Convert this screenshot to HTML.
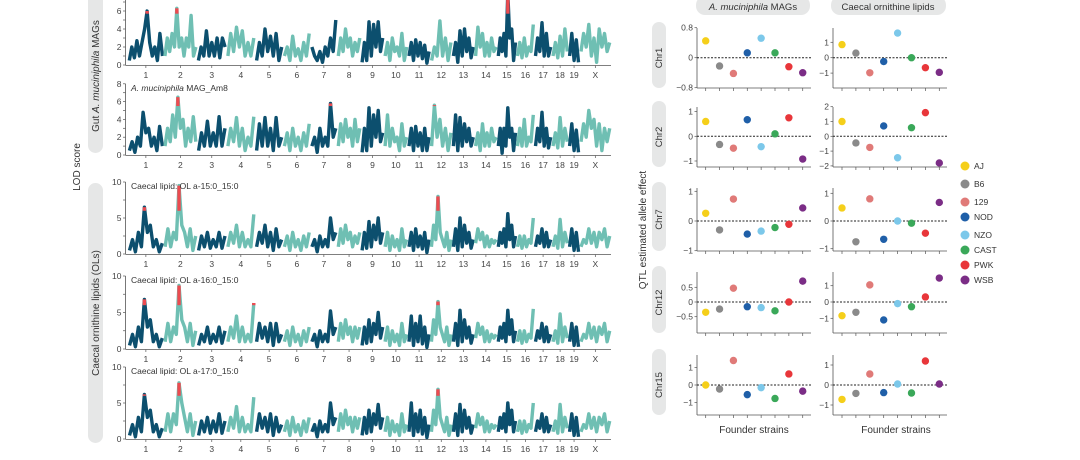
<!DOCTYPE html>
<html><head><meta charset="utf-8">
<style>
html,body{margin:0;padding:0;background:#fff;}
svg{display:block;font-family:"Liberation Sans",sans-serif;}
</style></head>
<body>
<svg id="fig" width="1080" height="460" viewBox="0 0 1080 460" xmlns="http://www.w3.org/2000/svg">
  <rect x="88" y="-10" width="15" height="163" rx="7.5" fill="#e6e7e7"/>
  <text transform="translate(99,76) rotate(-90)" text-anchor="middle" font-size="10" fill="#333">Gut <tspan font-style="italic">A. muciniphila</tspan> MAGs</text>
  <rect x="88" y="183" width="15" height="260" rx="7.5" fill="#e6e7e7"/>
  <text transform="translate(99,313) rotate(-90)" text-anchor="middle" font-size="10" fill="#333">Caecal ornithine lipids (OLs)</text>
  <text transform="translate(80,167) rotate(-90)" text-anchor="middle" font-size="10" fill="#333">LOD score</text>

  <rect x="696" y="-4" width="114" height="19" rx="9" fill="#e6e7e7"/>
  <text x="753" y="10" text-anchor="middle" font-size="9.5" fill="#333"><tspan font-style="italic">A. muciniphila</tspan> MAGs</text>
  <rect x="831" y="-4" width="115" height="19" rx="9" fill="#e6e7e7"/>
  <text x="888" y="10" text-anchor="middle" font-size="9.5" fill="#333">Caecal ornithine lipids</text>
  <text transform="translate(646,230) rotate(-90)" text-anchor="middle" font-size="10" fill="#333">QTL estimated allele effect</text>
  <text x="754" y="433" text-anchor="middle" font-size="10" fill="#333">Founder strains</text>
  <text x="896" y="433" text-anchor="middle" font-size="10" fill="#333">Founder strains</text>
  <g id="manh"></g>
  <g id="eff"></g>
  <g id="legend"></g>
</svg>
<script>
const chrNames = ["1","2","3","4","5","6","7","8","9","10","11","12","13","14","15","16","17","18","19","X"];
const chrLen = [195,182,160,157,152,150,145,130,125,131,122,120,121,125,104,98,95,91,61,171];
const lodMAGs = [
[0.5,2,0.8,2.7,1,2.5,4,6,2.5,1,2,0.5,3.5,1],
[1,3,1.5,3.5,2,6.3,2,3,1,3,2,5.5,1,2],
[0.5,2,1,3.8,1,2.5,1,3,0.8,3,2],
[1,3.5,1.5,4.2,2,3.8,1,2.5,1,3],
[0.5,2.5,1,4,1.5,3.2,1,3.5,0.5,2],
[1,2,0.5,3.2,1,1.8,0.5,2.5,1,3.5],
[2,1,0.5,1.5,0.3,2,1,3,1.5,5],
[1,3,1.5,4,2,3,1,2.5,1.5,3],
[0.3,2.5,0.5,4.8,1,4.5,2,4.8,1.5,3],
[1,2.5,0.5,3,1.5,2,1,3.5,0.5,2],
[1,2.5,0.5,2.8,1,2.5,0.7,2.2,0.2,1.5],
[0.5,2,1,4.9,1,3,0.5,2.5],
[1,2.5,0.3,3.8,1,4,1.5,3,0.8,2],
[1,4.2,2,3.5,1,2.5,1,3,1.5,2],
[1,3,1.5,3.5,1,8,3,4,0.5,2.5],
[1,2.5,0.8,3,1,2,1.5,4.5],
[1,3,1.5,4.7,1,3.5,1,2],
[1,2.5,0.8,3.2,1,4,1.5],
[1,3.5,0.5,2.8,0.3],
[1.5,3.5,2,4.5,1,3,0.3,4,2,3.5,1.5,2.5]];
const lodAm8 = [
[0.5,1.5,0.3,2,1,4.8,2.5,3,1,2,0.5,3.2,1],
[1,3,1.5,4.5,2,6.5,3,4,1,3,1.5,4.3,1.5],
[0.5,2.5,1,3.8,1,2.5,1,4.3,1,3],
[1,3,1.5,4.2,1,3,0.5,2,1,4.3],
[0.5,3.5,1,4.2,1,3,0.5,4.2,1,2],
[1,2.5,0.5,3,1,2,0.5,2.5,1,3.5],
[1,2,0.3,3,1,2,1,5.8,2,3],
[1,3.5,1.5,4,2,3,1,4,1.5,3],
[0.3,3,0.5,5.3,1,4.5,2,5,1.5,2.5],
[1,4.5,1,3,1.5,2,0.5,3.5,1,2],
[1,3,0.5,3.2,1,2.5,0.5,3,0.5,2],
[1,5.6,2,4,1,3,0.5,2.5],
[1,4.5,0.5,4.2,1,3.5,1.5,3,1,2],
[1,2.5,0.5,3.5,1,2.5,1,3,1.5,2],
[1,3,0.2,3,1,5.3,2,3,0.5,2.5],
[1,3,1,4,1,2,1.5,4.5],
[1,3,1.5,4.8,1,3,0.8,2],
[1,2.5,0.8,4.2,1,3,1.5],
[1,3.5,0.5,2.8,0.3],
[1.5,3.5,2,5,3,4,1,3.5,0.5,3,1.5,3]];
const lodOL15 = [
[0.5,2,0.3,3,1,6.5,3,4,1,2,0.3,1.5],
[1,3.5,1,3,2,9.5,4,3,1,3.5,0.5,2.5],
[0.5,2.5,1,3,0.8,2,1,3,0.8,2.5],
[1,3,1.5,4,1,3,1,2,1,5.5],
[1,3,1.5,4,1,3,0.5,3.5,1,2],
[1,2.5,0.5,3,1,2,0.5,2.5,1,3],
[1,2,0.3,2.5,1,2,1,5,2,3],
[1,3.5,1.5,4,2,3,1,2.5,1.5,3],
[0.5,3,0.8,4.5,1,4,2,5,1.5,3],
[1,3,0.5,2.5,1,2,0.5,3.5,1,2],
[1,3,0.5,3.5,1,2.5,0.7,3,0.2,2],
[1,4,2,8,3,2,1,3,0.5,2],
[1,3.5,0.5,5,1,4,1.5,3,0.8,2],
[1.5,3.5,2,3,1,2.5,1,2,1.5,2],
[1,3,1.5,3.5,1,5.6,2,4,1,2.5],
[1,2.5,0.8,2.5,1,2,1.5,5],
[1,2.5,1.5,3.5,1,3,1,2],
[1,2.5,0.8,4.8,1,3,1.5],
[1,3.5,0.5,3,0.3],
[1,2,1.5,3.5,1.5,3,1,3,2,3.5,1,2.5]];
const lodOL16 = [
[0.5,2,0.3,3,1,6.8,3,4,1,2,0.3,1.5],
[1,3.5,1,3,2,8.7,4,3,1,3.5,0.5,2.5],
[0.5,2,1,3,0.8,2,1,3,0.8,2.5],
[1,3,1.5,4.5,1,3,1,2,1,6.3],
[1,3.5,1.5,3,1,3.5,0.5,3.5,1,2],
[1,2.5,0.5,3,1,2,0.5,2.5,1,3],
[1,2,0.3,2.5,1,2,1,5.2,2,3],
[1,3.5,1.5,4,2,3,1,3,1.5,3],
[0.5,3,0.8,4,1,3.5,2,5,1.5,3],
[1,3,0.5,2.5,1,2,0.5,3.5,1,2],
[1,4.5,0.5,3.5,1,4.5,0.7,3,0.2,2],
[1,4,2,6.5,3,2,1,3,0.5,2],
[1,3.5,0.5,5.3,1,4,1.5,3,0.8,2],
[1.5,3.5,2,3,1,2.5,1,2,1.5,2],
[1,3,1.5,3.5,1,5.3,2,4,1,2.5],
[1,2.5,0.8,2.5,1,2,1.5,5.5],
[1,2.5,1.5,3.5,1,3,1,2],
[1,2.5,0.8,4.8,1,3,1.5],
[1,3.5,0.5,3,0.3],
[1,2,1.5,3.5,1.5,3,1,3,2,3.5,1,2.5]];
const lodOL17 = [
[0.5,2,0.3,3,1,6.2,3,4,1,2,0.3,1.5],
[1,3.5,1,3.5,2,7.8,5,3,1,3.5,0.5,2.5],
[0.5,2.5,1,3,0.8,2.5,1,3.5,0.8,2.5],
[1,3,1.5,4.5,1,3,1,2,1,5.8],
[1,3.5,1.5,3,1,3.5,0.5,3,1,2],
[1,2.5,0.5,3,1,2,0.5,2.5,1,3],
[1,2,0.3,2.5,1,2,1,5,2,3],
[1,3.5,1.5,4,2,3,1,3,1.5,3],
[0.5,3,0.8,4,1,3.5,2,4.8,1.5,3],
[1,3,0.5,2.5,1,2,0.5,3.5,1,2],
[1,5,0.5,3.5,1,4,0.7,3,0.2,2],
[1,4,2,6.9,3,2,1,3,0.5,2],
[1,3.5,0.5,4.8,1,4,1.5,3,0.8,2],
[1.5,3.5,2,3,1,2.5,1,2,1.5,2],
[1,3,1.5,3.5,1,5,2,4,1,2.5],
[1,2.5,0.8,2.5,1,2,1.5,5],
[1,2.5,1.5,3.5,1,3,1,2],
[1,2.5,0.8,4.8,1,3,1.5],
[1,3.5,0.5,3,0.3],
[1,2,1.5,3.5,1.5,3,1,3,2,3.5,1,2.5]];
const manhTicks8 = [0,2,4,6,8];
const manhTicks10 = [0,5,10];

const strains = ["AJ","B6","129","NOD","NZO","CAST","PWK","WSB"];
const strainColors = ["#f5cf1a","#8a8a8a","#e07a78","#1f5fa8","#7cc8ea","#3aa859","#e8363a","#7b2d86"];
const effRows = ["Chr1","Chr2","Chr7","Chr12","Chr15"];
const effMAG = [
[0.45,-0.22,-0.42,0.13,0.52,0.13,-0.24,-0.4],
[0.6,-0.33,-0.48,0.67,-0.42,0.1,0.75,-0.92],
[0.26,-0.3,0.74,-0.44,-0.34,-0.22,-0.11,0.44],
[-0.35,-0.24,0.47,-0.16,-0.19,-0.3,0,0.71],
[0,-0.23,1.4,-0.55,-0.15,-0.77,0.63,-0.35]];
const effOL = [
[0.85,0.3,-0.98,-0.25,1.6,0,-0.65,-0.95],
[1.0,-0.45,-0.75,0.7,-1.45,0.58,1.6,-1.8],
[0.47,-0.75,0.8,-0.66,0,-0.08,-0.44,0.67],
[-0.84,-0.63,1.05,-1.1,-0.1,-0.29,0.31,1.47],
[-0.72,-0.42,0.55,-0.38,0.05,-0.4,1.2,0.05]];
const effTicksMAG = [[-0.8,0,0.8],[-1,0,1],[-1,0,1],[-0.5,0,0.5],[-1,0,1]];
const effTicksOL = [[-1,0,1],[-2,-1,0,1,2],[-1,0,1],[-1,0,1],[-1,0,1]];

const NS="http://www.w3.org/2000/svg";
function mk(tag, attrs, parent){const e=document.createElementNS(NS,tag);for(const k in attrs)e.setAttribute(k,attrs[k]);parent.appendChild(e);return e;}
const manh=document.getElementById('manh');
const DARK="#0c4f6e", LIGHT="#6fbfb3", RED="#ec4b50", AX="#555";
const X0=128, X1=611, AXL=125.5;
const totLen=chrLen.reduce((a,b)=>a+b,0);
const chrStart=[];{let acc=0;for(const l of chrLen){chrStart.push(X0+acc/totLen*(X1-X0));acc+=l;}}
function chrX(ci,j,n){const w=chrLen[ci]/totLen*(X1-X0);return chrStart[ci]+(j+0.5)/n*w;}

const panels=[
 {data:lodMAGs,y0:65,ppu:9,ticks:manhTicks8,max:8,thr:5.7,title:null,name:"mags-lod"},
 {data:lodAm8,y0:155,ppu:8.9,ticks:manhTicks8,max:8,thr:5.5,title:"am8",name:"am8-lod"},
 {data:lodOL15,y0:254,ppu:7.2,ticks:manhTicks10,max:10,thr:6,title:"Caecal lipid: OL a-15:0_15:0",name:"ol15-lod"},
 {data:lodOL16,y0:349,ppu:7.3,ticks:manhTicks10,max:10,thr:6,title:"Caecal lipid: OL a-16:0_15:0",name:"ol16-lod"},
 {data:lodOL17,y0:439,ppu:7.2,ticks:manhTicks10,max:10,thr:6,title:"Caecal lipid: OL a-17:0_15:0",name:"ol17-lod"}];

panels.forEach((p,pi)=>{
  const g=mk('g',{},manh);
  
  
  const y=v=>p.y0-v*p.ppu;
  const ya=mk('line',{x1:AXL,x2:AXL,y1:y(p.max),y2:p.y0,stroke:AX,'stroke-width':0.8},g);
  
  
  const xa=mk('line',{x1:AXL,x2:X1,y1:p.y0+0.5,y2:p.y0+0.5,stroke:AX,'stroke-width':0.8},g);
  
  
  const step=p.max===8?1:2.5;
  for(let v=0;v<=p.max+0.01;v+=step){mk('line',{x1:AXL-2.5,x2:AXL,y1:y(v),y2:y(v),stroke:AX,'stroke-width':0.7},g);}
  p.ticks.forEach(v=>{
    const t=mk('text',{x:AXL-4,y:y(v)+3,'text-anchor':'end','font-size':8.5,fill:'#444'},g);
    t.textContent=String(v);
    
    
  });
  p.data.forEach((vals,ci)=>{
    const col=ci%2===0?DARK:LIGHT;
    const pts=vals.map((v,j)=>chrX(ci,j,vals.length).toFixed(1)+','+y(v).toFixed(1)).join(' ');
    const pl=mk('polyline',{points:pts,fill:'none',stroke:col,'stroke-width':3.4,'stroke-linejoin':'round'},g);
    
    
    vals.forEach((v,j)=>{
      if(v>p.thr){
        const r=mk('line',{x1:chrX(ci,j,vals.length),x2:chrX(ci,j,vals.length),y1:y(p.thr),y2:y(v),stroke:RED,'stroke-width':3.4},g);
        
        
      }
    });
    const cx=(chrStart[ci]+chrLen[ci]/totLen*(X1-X0)/2);
    mk('line',{x1:cx,x2:cx,y1:p.y0+0.5,y2:p.y0+3,stroke:AX,'stroke-width':0.7},g);
    const lt=mk('text',{x:cx,y:p.y0+13,'text-anchor':'middle','font-size':8.5,fill:'#444'},g);
    lt.textContent=chrNames[ci];
    
    
  });
  if(p.title){
    const tt=mk('text',{x:131,y:y(p.max)+7,'font-size':8.5,fill:'#333'},g);
    if(p.title==="am8"){tt.innerHTML='<tspan font-style="italic">A. muciniphila</tspan> MAG_Am8';}
    else tt.textContent=p.title;
    
    
  }
});

const eff=document.getElementById('eff');
const rowSpec=[
 {top:28,bot:88,zero:57.7,ppuL:37.5,ppuR:15.4},
 {top:107,bot:167,zero:136.3,ppuL:24.7,ppuR:14.8},
 {top:188,bot:251,zero:221,ppuL:29.7,ppuR:27.7},
 {top:272,bot:333,zero:302,ppuL:29.4,ppuR:16.3},
 {top:355,bot:415,zero:385,ppuL:17.5,ppuR:20}];
const cols=[{ax:697,end:811,x0:705.7,dx:13.86,data:effMAG,ticks:effTicksMAG,key:'ppuL',name:'mags'},
            {ax:833,end:947,x0:842,dx:13.9,data:effOL,ticks:effTicksOL,key:'ppuR',name:'lipids'}];
rowSpec.forEach((r,ri)=>{
  const pill=mk('rect',{x:652,y:r.top-6,width:14,height:r.bot-r.top+6,rx:7,fill:'#e6e7e7'},eff);
  
  
  const rl=mk('text',{transform:`translate(662,${(r.top+r.bot)/2}) rotate(-90)`,'text-anchor':'middle','font-size':9.5,fill:'#333'},eff);
  rl.textContent=effRows[ri];
  
  
  cols.forEach(c=>{
    const g=mk('g',{},eff);
    
    
    const ppu=r[c.key];
    const y=v=>r.zero-v*ppu;
    mk('line',{x1:c.ax,x2:c.ax,y1:r.top,y2:r.bot,stroke:AX,'stroke-width':0.8},g);
    mk('line',{x1:c.ax,x2:c.end,y1:r.bot,y2:r.bot,stroke:AX,'stroke-width':0.8},g);
    const zl=mk('line',{x1:c.ax,x2:c.end,y1:r.zero,y2:r.zero,stroke:'#222','stroke-width':1,'stroke-dasharray':'2,1.5'},g);
    
    
    c.ticks[ri].forEach(v=>{
      mk('line',{x1:c.ax-2.5,x2:c.ax,y1:y(v),y2:y(v),stroke:AX,'stroke-width':0.7},g);
      const t=mk('text',{x:c.ax-4,y:y(v)+3,'text-anchor':'end','font-size':8.5,fill:'#444'},g);
      t.textContent=v<0?'\u2212'+Math.abs(v):String(v);
      
      
    });
    strains.forEach((s,si)=>{
      const x=c.x0+si*c.dx;
      mk('line',{x1:x,x2:x,y1:r.bot,y2:r.bot+3,stroke:AX,'stroke-width':0.7},g);
      const d=mk('circle',{cx:x,cy:y(c.data[ri][si]),r:3.7,fill:strainColors[si]},g);
      
      
    });
  });
});

const leg=document.getElementById('legend');
const legY=[166,184,202,217,235,250,265,280];
strains.forEach((s,si)=>{
  const g=mk('g',{},leg);
  
  
  mk('circle',{cx:965,cy:legY[si],r:4.5,fill:strainColors[si]},g);
  const t=mk('text',{x:974,y:legY[si]+3,'font-size':8.5,fill:'#333'},g);
  t.textContent=s;
});
</script>
</body></html>
